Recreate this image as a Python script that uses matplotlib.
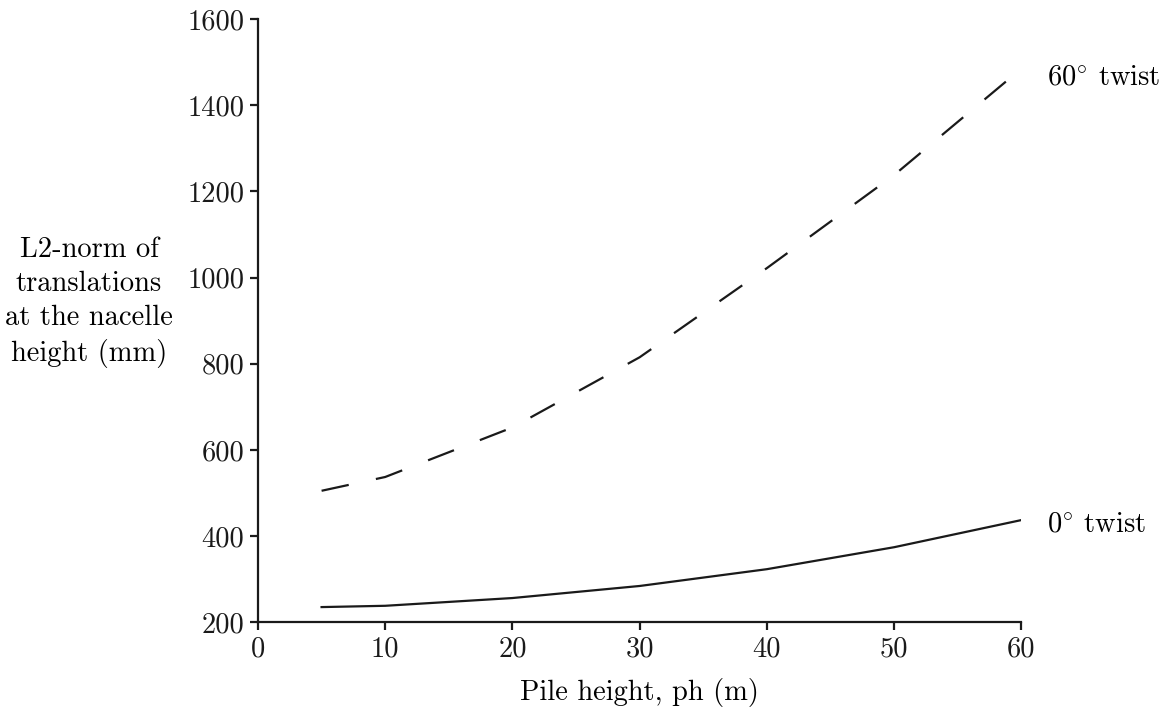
import matplotlib
matplotlib.use("Agg")
import matplotlib.pyplot as plt

plt.rcParams['font.family'] = 'cmr10'
plt.rcParams['mathtext.fontset'] = 'cm'
plt.rcParams['axes.formatter.use_mathtext'] = True
plt.rcParams['axes.unicode_minus'] = False

pile_height = [5, 10, 20, 30, 40, 50, 60]
twist_0 = [235, 238, 256, 284, 323, 374, 437]
twist_60 = [505, 537, 652, 815, 1022, 1238, 1485]
xticks = [0, 10, 20, 30, 40, 50, 60]
yticks = [200, 400, 600, 800, 1000, 1200, 1400, 1600]

FS = 20.5
fig = plt.figure(figsize=(11.62, 7.07), dpi=100)
ax = fig.add_axes([0.222, 0.120, 0.657, 0.853])

ax.plot(pile_height, twist_0, color='#1a1a1a', lw=1.6)
ax.plot(pile_height, twist_60, color='#1a1a1a', lw=1.6, dashes=(12.5, 12.5))

ax.set_xlim(0, 60)
ax.set_ylim(200, 1600)
ax.set_xticks(xticks)
ax.set_yticks(yticks)
ax.set_xticklabels([str(t) for t in xticks])
ax.set_yticklabels([str(t) for t in yticks])
for s in ['top', 'right']:
    ax.spines[s].set_visible(False)
for s in ['left', 'bottom']:
    ax.spines[s].set_linewidth(1.6)
    ax.spines[s].set_color('#1a1a1a')
ax.tick_params(direction='out', length=6, width=1.6, labelsize=FS, colors='#1a1a1a', pad=4)

ax.text(62.0, twist_60[-1] - 20, r'$60^{\circ}$ twist', fontsize=FS, va='center', ha='left')
ax.text(62.0, twist_0[-1] - 10, r'$0^{\circ}$ twist', fontsize=FS, va='center', ha='left')

ax.set_xlabel('Pile height, ph (m)', fontsize=FS, labelpad=11)
fig.text(0.0766, 0.572, 'L2-norm of\ntranslations\nat the nacelle\nheight (mm)', fontsize=FS,
         ha='center', va='center', linespacing=1.38)

fig.savefig('out.png', dpi=100)
